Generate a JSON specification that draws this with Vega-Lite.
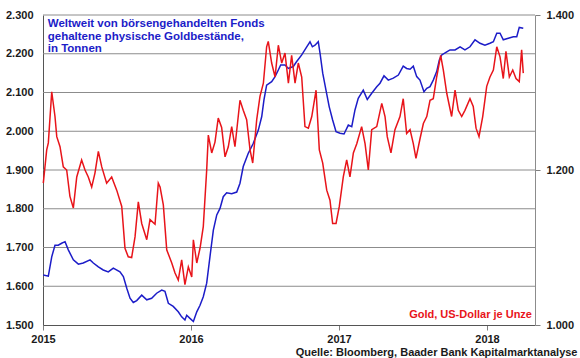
{
  "$schema": "https://vega.github.io/schema/vega-lite/v6.json",
  "width": 492,
  "height": 310,
  "autosize": {"type": "none"},
  "padding": {"left": 43, "top": 15, "right": 45, "bottom": 33},
  "background": "white",
  "config": {
    "locale": {"number": {"decimal": ",", "thousands": ".", "grouping": [3], "currency": ["", " €"]}},
    "font": "Liberation Sans",
    "view": {"stroke": null},
    "axis": {"labelFont": "Liberation Sans", "labelFontWeight": "bold", "labelFontSize": 11, "labelColor": "#1a1a1a", "domainColor": "#7f7f7f", "tickColor": "#7f7f7f", "labelFlush": false}
  },
  "datasets": {
    "grid": [{"g": 1600}, {"g": 1700}, {"g": 1800}, {"g": 1900}, {"g": 2000}, {"g": 2100}, {"g": 2200}, {"g": 2300}],
    "etf": [
      {"t": 2015.002, "v": 1629}, {"t": 2015.036, "v": 1626}, {"t": 2015.059, "v": 1676}, {"t": 2015.081, "v": 1706},
      {"t": 2015.103, "v": 1706}, {"t": 2015.126, "v": 1711}, {"t": 2015.149, "v": 1715}, {"t": 2015.171, "v": 1694},
      {"t": 2015.205, "v": 1668}, {"t": 2015.239, "v": 1657}, {"t": 2015.272, "v": 1660}, {"t": 2015.318, "v": 1668},
      {"t": 2015.340, "v": 1660}, {"t": 2015.374, "v": 1650}, {"t": 2015.407, "v": 1642}, {"t": 2015.441, "v": 1637},
      {"t": 2015.475, "v": 1647}, {"t": 2015.520, "v": 1637}, {"t": 2015.543, "v": 1625}, {"t": 2015.566, "v": 1595},
      {"t": 2015.588, "v": 1569}, {"t": 2015.610, "v": 1558}, {"t": 2015.633, "v": 1563}, {"t": 2015.667, "v": 1577},
      {"t": 2015.701, "v": 1565}, {"t": 2015.734, "v": 1569}, {"t": 2015.768, "v": 1582}, {"t": 2015.802, "v": 1590},
      {"t": 2015.824, "v": 1587}, {"t": 2015.847, "v": 1556}, {"t": 2015.880, "v": 1548}, {"t": 2015.914, "v": 1534},
      {"t": 2015.937, "v": 1521}, {"t": 2015.959, "v": 1513}, {"t": 2015.971, "v": 1525}, {"t": 2015.993, "v": 1517},
      {"t": 2016.016, "v": 1509}, {"t": 2016.039, "v": 1534}, {"t": 2016.061, "v": 1551}, {"t": 2016.083, "v": 1573},
      {"t": 2016.106, "v": 1608}, {"t": 2016.128, "v": 1676}, {"t": 2016.151, "v": 1745}, {"t": 2016.174, "v": 1784},
      {"t": 2016.196, "v": 1801}, {"t": 2016.218, "v": 1831}, {"t": 2016.241, "v": 1841}, {"t": 2016.275, "v": 1839},
      {"t": 2016.309, "v": 1843}, {"t": 2016.331, "v": 1866}, {"t": 2016.353, "v": 1909}, {"t": 2016.387, "v": 1943},
      {"t": 2016.421, "v": 1969}, {"t": 2016.455, "v": 2003}, {"t": 2016.478, "v": 2038}, {"t": 2016.493, "v": 2081},
      {"t": 2016.511, "v": 2119}, {"t": 2016.545, "v": 2128}, {"t": 2016.568, "v": 2141}, {"t": 2016.590, "v": 2158},
      {"t": 2016.606, "v": 2171}, {"t": 2016.635, "v": 2171}, {"t": 2016.658, "v": 2162}, {"t": 2016.691, "v": 2167},
      {"t": 2016.714, "v": 2180}, {"t": 2016.748, "v": 2197}, {"t": 2016.782, "v": 2218}, {"t": 2016.804, "v": 2231},
      {"t": 2016.820, "v": 2218}, {"t": 2016.838, "v": 2222}, {"t": 2016.860, "v": 2231}, {"t": 2016.872, "v": 2201},
      {"t": 2016.890, "v": 2150}, {"t": 2016.912, "v": 2106}, {"t": 2016.934, "v": 2063}, {"t": 2016.957, "v": 2029},
      {"t": 2016.980, "v": 1999}, {"t": 2017.007, "v": 1995}, {"t": 2017.034, "v": 1993}, {"t": 2017.063, "v": 2016},
      {"t": 2017.086, "v": 2012}, {"t": 2017.108, "v": 2055}, {"t": 2017.130, "v": 2085}, {"t": 2017.164, "v": 2106},
      {"t": 2017.191, "v": 2082}, {"t": 2017.221, "v": 2098}, {"t": 2017.255, "v": 2115}, {"t": 2017.277, "v": 2124},
      {"t": 2017.304, "v": 2143}, {"t": 2017.333, "v": 2132}, {"t": 2017.367, "v": 2137}, {"t": 2017.401, "v": 2145},
      {"t": 2017.434, "v": 2168}, {"t": 2017.457, "v": 2162}, {"t": 2017.480, "v": 2160}, {"t": 2017.502, "v": 2168},
      {"t": 2017.525, "v": 2141}, {"t": 2017.547, "v": 2132}, {"t": 2017.574, "v": 2102}, {"t": 2017.593, "v": 2111},
      {"t": 2017.615, "v": 2115}, {"t": 2017.637, "v": 2132}, {"t": 2017.660, "v": 2154}, {"t": 2017.678, "v": 2184},
      {"t": 2017.694, "v": 2197}, {"t": 2017.728, "v": 2205}, {"t": 2017.750, "v": 2210}, {"t": 2017.784, "v": 2210},
      {"t": 2017.818, "v": 2218}, {"t": 2017.851, "v": 2210}, {"t": 2017.885, "v": 2218}, {"t": 2017.919, "v": 2236},
      {"t": 2017.953, "v": 2227}, {"t": 2017.986, "v": 2222}, {"t": 2018.020, "v": 2227}, {"t": 2018.043, "v": 2231},
      {"t": 2018.066, "v": 2253}, {"t": 2018.088, "v": 2253}, {"t": 2018.110, "v": 2236}, {"t": 2018.144, "v": 2240},
      {"t": 2018.178, "v": 2244}, {"t": 2018.201, "v": 2244}, {"t": 2018.218, "v": 2268}, {"t": 2018.245, "v": 2266}
    ],
    "gold": [
      {"t": 2015.002, "p": 1183}, {"t": 2015.025, "p": 1226}, {"t": 2015.036, "p": 1235}, {"t": 2015.059, "p": 1301},
      {"t": 2015.081, "p": 1269}, {"t": 2015.093, "p": 1243}, {"t": 2015.115, "p": 1230}, {"t": 2015.137, "p": 1204},
      {"t": 2015.160, "p": 1200}, {"t": 2015.182, "p": 1166}, {"t": 2015.205, "p": 1151}, {"t": 2015.228, "p": 1191},
      {"t": 2015.261, "p": 1213}, {"t": 2015.284, "p": 1200}, {"t": 2015.306, "p": 1191}, {"t": 2015.329, "p": 1178},
      {"t": 2015.351, "p": 1196}, {"t": 2015.374, "p": 1224}, {"t": 2015.397, "p": 1204}, {"t": 2015.430, "p": 1183},
      {"t": 2015.464, "p": 1191}, {"t": 2015.498, "p": 1174}, {"t": 2015.532, "p": 1153}, {"t": 2015.554, "p": 1099},
      {"t": 2015.576, "p": 1088}, {"t": 2015.599, "p": 1087}, {"t": 2015.622, "p": 1114}, {"t": 2015.644, "p": 1159},
      {"t": 2015.667, "p": 1131}, {"t": 2015.701, "p": 1110}, {"t": 2015.723, "p": 1136}, {"t": 2015.757, "p": 1130},
      {"t": 2015.779, "p": 1183}, {"t": 2015.791, "p": 1178}, {"t": 2015.813, "p": 1155}, {"t": 2015.836, "p": 1097},
      {"t": 2015.870, "p": 1080}, {"t": 2015.892, "p": 1067}, {"t": 2015.914, "p": 1058}, {"t": 2015.937, "p": 1084},
      {"t": 2015.959, "p": 1052}, {"t": 2015.982, "p": 1075}, {"t": 2016.005, "p": 1062}, {"t": 2016.016, "p": 1110},
      {"t": 2016.039, "p": 1080}, {"t": 2016.061, "p": 1099}, {"t": 2016.083, "p": 1127}, {"t": 2016.106, "p": 1200},
      {"t": 2016.117, "p": 1245}, {"t": 2016.140, "p": 1222}, {"t": 2016.162, "p": 1236}, {"t": 2016.184, "p": 1267},
      {"t": 2016.207, "p": 1255}, {"t": 2016.230, "p": 1217}, {"t": 2016.252, "p": 1230}, {"t": 2016.275, "p": 1256},
      {"t": 2016.297, "p": 1230}, {"t": 2016.331, "p": 1290}, {"t": 2016.353, "p": 1277}, {"t": 2016.376, "p": 1265},
      {"t": 2016.399, "p": 1226}, {"t": 2016.417, "p": 1209}, {"t": 2016.444, "p": 1265}, {"t": 2016.466, "p": 1295},
      {"t": 2016.489, "p": 1312}, {"t": 2016.511, "p": 1359}, {"t": 2016.522, "p": 1366}, {"t": 2016.545, "p": 1338},
      {"t": 2016.568, "p": 1320}, {"t": 2016.590, "p": 1361}, {"t": 2016.613, "p": 1338}, {"t": 2016.635, "p": 1351},
      {"t": 2016.658, "p": 1312}, {"t": 2016.680, "p": 1348}, {"t": 2016.703, "p": 1312}, {"t": 2016.725, "p": 1338},
      {"t": 2016.748, "p": 1320}, {"t": 2016.770, "p": 1256}, {"t": 2016.793, "p": 1254}, {"t": 2016.816, "p": 1269},
      {"t": 2016.845, "p": 1303}, {"t": 2016.867, "p": 1226}, {"t": 2016.890, "p": 1209}, {"t": 2016.917, "p": 1174},
      {"t": 2016.939, "p": 1161}, {"t": 2016.957, "p": 1131}, {"t": 2016.980, "p": 1131}, {"t": 2017.002, "p": 1153},
      {"t": 2017.029, "p": 1191}, {"t": 2017.052, "p": 1213}, {"t": 2017.074, "p": 1191}, {"t": 2017.097, "p": 1222},
      {"t": 2017.120, "p": 1234}, {"t": 2017.153, "p": 1256}, {"t": 2017.176, "p": 1234}, {"t": 2017.198, "p": 1200},
      {"t": 2017.221, "p": 1252}, {"t": 2017.255, "p": 1256}, {"t": 2017.289, "p": 1286}, {"t": 2017.311, "p": 1269},
      {"t": 2017.326, "p": 1243}, {"t": 2017.351, "p": 1222}, {"t": 2017.378, "p": 1252}, {"t": 2017.412, "p": 1269},
      {"t": 2017.434, "p": 1292}, {"t": 2017.457, "p": 1247}, {"t": 2017.480, "p": 1252}, {"t": 2017.502, "p": 1234},
      {"t": 2017.520, "p": 1215}, {"t": 2017.547, "p": 1240}, {"t": 2017.570, "p": 1260}, {"t": 2017.593, "p": 1269},
      {"t": 2017.615, "p": 1290}, {"t": 2017.637, "p": 1292}, {"t": 2017.660, "p": 1320}, {"t": 2017.687, "p": 1348},
      {"t": 2017.705, "p": 1329}, {"t": 2017.728, "p": 1299}, {"t": 2017.761, "p": 1269}, {"t": 2017.784, "p": 1303},
      {"t": 2017.806, "p": 1277}, {"t": 2017.829, "p": 1269}, {"t": 2017.851, "p": 1277}, {"t": 2017.885, "p": 1292},
      {"t": 2017.907, "p": 1282}, {"t": 2017.926, "p": 1254}, {"t": 2017.946, "p": 1243}, {"t": 2017.971, "p": 1269},
      {"t": 2017.998, "p": 1308}, {"t": 2018.020, "p": 1320}, {"t": 2018.043, "p": 1329}, {"t": 2018.066, "p": 1359},
      {"t": 2018.088, "p": 1346}, {"t": 2018.110, "p": 1318}, {"t": 2018.128, "p": 1353}, {"t": 2018.151, "p": 1320},
      {"t": 2018.174, "p": 1329}, {"t": 2018.196, "p": 1318}, {"t": 2018.218, "p": 1314}, {"t": 2018.234, "p": 1355},
      {"t": 2018.245, "p": 1325}
    ],
    "one": [{}]
  },
  "layer": [
    {
      "layer": [
        {
          "data": {"name": "grid"},
          "mark": {"type": "rule", "color": "#8c8c8c", "strokeWidth": 1},
          "encoding": {
            "y": {"field": "g", "type": "quantitative"}
          }
        },
        {
          "data": {"name": "etf"},
          "mark": {"type": "line", "color": "#1c1cc8", "strokeWidth": 1.5},
          "encoding": {
            "x": {"field": "t", "type": "quantitative",
                  "scale": {"domain": [2015, 2018.3243], "nice": false, "zero": false},
                  "axis": {"values": [2015, 2016, 2017, 2018], "tickCount": 10, "format": "d", "grid": false, "tickSize": 5, "labelPadding": 3,
                           "domainColor": "#555555", "labelOverlap": false,
                           "title": "Quelle: Bloomberg, Baader Bank Kapitalmarktanalyse",
                           "titleFont": "Liberation Sans", "titleFontSize": 11, "titleFontWeight": "bold", "titleColor": "#1a1a1a",
                           "titleAnchor": "end", "titleAlign": "right", "titleX": 534, "titleY": 21, "titleBaseline": "top"}},
            "y": {"field": "v", "type": "quantitative",
                  "scale": {"domain": [1500, 2300], "nice": false, "zero": false},
                  "axis": {"values": [1500, 1600, 1700, 1800, 1900, 2000, 2100, 2200, 2300], "tickCount": 12, "format": ",d", "labelOverlap": false,
                           "title": null, "tickSize": 0, "labelPadding": 10, "domainColor": "#555555", "grid": false}}
          }
        },
        {
          "data": {"name": "one"},
          "mark": {"type": "text", "align": "left", "baseline": "top", "font": "Liberation Sans", "fontWeight": "bold",
                   "fontSize": 11.5, "color": "#1c1cc8", "lineHeight": 12.5,
                   "text": ["Weltweit von börsengehandelten Fonds", "gehaltene physische Goldbestände,", "in Tonnen"]},
          "encoding": {
            "x": {"datum": 2015.032, "type": "quantitative"},
            "y": {"datum": 2292, "type": "quantitative"}
          }
        }
      ]
    },
    {
      "layer": [
        {
          "data": {"name": "gold"},
          "mark": {"type": "line", "color": "#e8141a", "strokeWidth": 1.5},
          "encoding": {
            "x": {"field": "t", "type": "quantitative"},
            "y": {"field": "p", "type": "quantitative",
                  "scale": {"domain": [1000, 1400], "nice": false, "zero": false},
                  "axis": {"orient": "right", "values": [1000, 1200, 1400], "tickCount": 10, "format": ",d", "title": null, "grid": false,
                           "labelOverlap": false, "tickSize": 5, "labelPadding": 6, "domainColor": "#8c8c8c"}}
          }
        },
        {
          "data": {"name": "one"},
          "mark": {"type": "text", "align": "right", "baseline": "alphabetic", "font": "Liberation Sans", "fontWeight": "bold",
                   "fontSize": 11, "color": "#e8141a", "text": "Gold, US-Dollar je Unze"},
          "encoding": {
            "x": {"datum": 2018.304, "type": "quantitative"},
            "y": {"datum": 1008.5, "type": "quantitative"}
          }
        }
      ]
    }
  ],
  "resolve": {"scale": {"y": "independent"}}
}
